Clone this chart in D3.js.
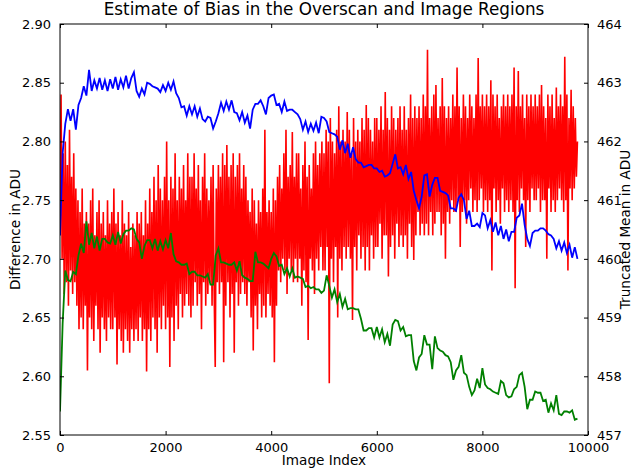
<!DOCTYPE html>
<html>
<head>
<meta charset="utf-8">
<script src="https://cdn.jsdelivr.net/npm/d3@7"></script>
<style>
  html, body { margin: 0; padding: 0; background: #ffffff; }
  svg { display: block; font-family: "DejaVu Sans", sans-serif; }
</style>
</head>
<body>
<svg id="chart" width="632" height="473"></svg>
<script>
// ---------------- data ----------------
const chartTitle = "Estimate of Bias in the Overscan and Image Regions";
const xLabel = "Image Index";
const leftLabel = "Difference in ADU";
const rightLabel = "Truncated Mean in ADU";

const xTicks = [0, 2000, 4000, 6000, 8000, 10000];
const leftTicks = [2.55, 2.60, 2.65, 2.70, 2.75, 2.80, 2.85, 2.90];
const rightTicks = [457, 458, 459, 460, 461, 462, 463, 464];

// sample spacing (image index) of each series
const diffStep = 20;
const meanStep = 50;

// Difference (left axis), red — one row per 500 images
const diffValues = [
  2.72, 2.84, 2.70, 2.79, 2.67, 2.80, 2.68, 2.78, 2.66, 2.81, 2.69, 2.77, 2.67, 2.79, 2.68, 2.76, 2.66, 2.75, 2.64, 2.74, 2.65, 2.76, 2.64, 2.73, 2.66,
  2.74, 2.605, 2.73, 2.65, 2.75, 2.64, 2.76, 2.63, 2.72, 2.66, 2.74, 2.64, 2.75, 2.62, 2.73, 2.65, 2.74, 2.64, 2.72, 2.63, 2.75, 2.65, 2.73, 2.64, 2.74,
  2.64, 2.76, 2.65, 2.73, 2.61, 2.74, 2.64, 2.72, 2.63, 2.75, 2.62, 2.73, 2.64, 2.72, 2.63, 2.74, 2.62, 2.71, 2.64, 2.73, 2.63, 2.72, 2.64, 2.74, 2.63,
  2.73, 2.65, 2.74, 2.63, 2.72, 2.64, 2.75, 2.604, 2.73, 2.64, 2.76, 2.63, 2.74, 2.65, 2.77, 2.64, 2.75, 2.62, 2.78, 2.65, 2.76, 2.64, 2.75, 2.66, 2.77,
  2.64, 2.80, 2.65, 2.75, 2.608, 2.77, 2.65, 2.76, 2.63, 2.79, 2.66, 2.75, 2.64, 2.77, 2.67, 2.76, 2.65, 2.78, 2.66, 2.75, 2.67, 2.79, 2.66, 2.77, 2.65,
  2.77, 2.66, 2.79, 2.68, 2.76, 2.66, 2.78, 2.67, 2.75, 2.64, 2.77, 2.68, 2.79, 2.66, 2.76, 2.67, 2.75, 2.68, 2.77, 2.66, 2.78, 2.67, 2.608, 2.76, 2.68,
  2.78, 2.67, 2.77, 2.68, 2.79, 2.612, 2.78, 2.66, 2.797, 2.68, 2.77, 2.65, 2.78, 2.67, 2.79, 2.62, 2.77, 2.68, 2.78, 2.66, 2.79, 2.67, 2.76, 2.68, 2.78,
  2.67, 2.77, 2.66, 2.75, 2.68, 2.74, 2.65, 2.76, 2.622, 2.75, 2.66, 2.73, 2.64, 2.75, 2.67, 2.74, 2.65, 2.76, 2.66, 2.81, 2.65, 2.74, 2.67, 2.75, 2.66,
  2.74, 2.65, 2.76, 2.612, 2.75, 2.66, 2.77, 2.69, 2.78, 2.68, 2.76, 2.70, 2.79, 2.69, 2.81, 2.67, 2.77, 2.70, 2.78, 2.69, 2.808, 2.68, 2.77, 2.70, 2.79,
  2.68, 2.79, 2.70, 2.76, 2.66, 2.78, 2.69, 2.80, 2.68, 2.77, 2.631, 2.78, 2.70, 2.76, 2.69, 2.79, 2.67, 2.80, 2.70, 2.78, 2.69, 2.79, 2.71, 2.80, 2.69,
  2.79, 2.69, 2.81, 2.71, 2.80, 2.594, 2.82, 2.70, 2.80, 2.68, 2.79, 2.71, 2.81, 2.65, 2.83, 2.70, 2.80, 2.69, 2.81, 2.71, 2.80, 2.70, 2.825, 2.71, 2.81,
  2.70, 2.79, 2.648, 2.82, 2.71, 2.80, 2.69, 2.81, 2.72, 2.80, 2.70, 2.82, 2.71, 2.81, 2.69, 2.831, 2.71, 2.82, 2.69, 2.81, 2.72, 2.80, 2.70, 2.82, 2.71,
  2.82, 2.71, 2.81, 2.73, 2.83, 2.70, 2.81, 2.72, 2.842, 2.72, 2.82, 2.685, 2.81, 2.71, 2.83, 2.72, 2.82, 2.70, 2.81, 2.73, 2.82, 2.71, 2.83, 2.72, 2.81,
  2.71, 2.83, 2.72, 2.81, 2.70, 2.82, 2.73, 2.84, 2.71, 2.82, 2.699, 2.83, 2.72, 2.82, 2.74, 2.83, 2.72, 2.82, 2.73, 2.84, 2.72, 2.83, 2.73, 2.878, 2.72,
  2.82, 2.74, 2.83, 2.72, 2.84, 2.73, 2.848, 2.74, 2.82, 2.74, 2.83, 2.72, 2.854, 2.73, 2.83, 2.70, 2.82, 2.74, 2.83, 2.73, 2.82, 2.75, 2.84, 2.74, 2.83,
  2.74, 2.863, 2.75, 2.83, 2.71, 2.82, 2.74, 2.84, 2.75, 2.83, 2.73, 2.82, 2.75, 2.84, 2.76, 2.83, 2.74, 2.82, 2.75, 2.84, 2.74, 2.871, 2.75, 2.83, 2.76,
  2.84, 2.74, 2.83, 2.75, 2.84, 2.74, 2.83, 2.75, 2.852, 2.69, 2.84, 2.76, 2.83, 2.74, 2.84, 2.75, 2.82, 2.73, 2.83, 2.76, 2.84, 2.74, 2.83, 2.75, 2.84,
  2.74, 2.83, 2.75, 2.84, 2.74, 2.863, 2.675, 2.83, 2.75, 2.86, 2.74, 2.83, 2.76, 2.84, 2.75, 2.82, 2.71, 2.84, 2.75, 2.83, 2.74, 2.84, 2.76, 2.83, 2.75,
  2.84, 2.75, 2.83, 2.76, 2.84, 2.74, 2.848, 2.75, 2.83, 2.75, 2.82, 2.70, 2.84, 2.76, 2.83, 2.74, 2.84, 2.75, 2.82, 2.74, 2.846, 2.75, 2.83, 2.76, 2.84,
  2.75, 2.83, 2.74, 2.872, 2.75, 2.84, 2.69, 2.82, 2.76, 2.844, 2.75, 2.83, 2.76, 2.82, 2.77, 2.80
];

// Truncated mean, overscan region (right axis), blue
const overscanMean = [
  460.4, 461.8, 462.3, 462.55, 462.35, 462.55, 462.2, 462.62, 462.74, 462.94,
  462.78, 463.22, 462.86, 463.04, 462.9, 463.08, 462.88, 463.04, 462.86, 463.06,
  462.9, 463.1, 462.88, 463.06, 462.92, 463.12, 462.9, 463.08, 463.18, 462.86,
  462.76, 462.9, 462.8, 463.0, 462.98, 462.94, 462.92, 462.9, 462.84, 462.96,
  462.86, 463.0, 462.88, 463.02, 462.82, 462.74, 462.58, 462.6, 462.44, 462.6,
  462.46, 462.6, 462.42, 462.56, 462.38, 462.34, 462.42, 462.4, 462.22, 462.34,
  462.48, 462.66, 462.52, 462.68, 462.54, 462.7, 462.5, 462.48, 462.36, 462.5,
  462.32, 462.44, 462.22, 462.54, 462.64, 462.64, 462.7, 462.6, 462.46, 462.74,
  462.78, 462.8, 462.62, 462.64, 462.5, 462.68, 462.52, 462.54, 462.54, 462.5,
  462.46, 462.38, 462.2, 462.34, 462.16, 462.3, 462.18, 462.32, 462.14, 462.42,
  462.4, 462.34, 462.16, 462.14, 462.12, 462.08, 461.86, 462.02, 461.8, 461.96,
  461.72, 461.9, 461.7, 461.64, 461.64, 461.56, 461.58, 461.6, 461.6, 461.54,
  461.54, 461.48, 461.5, 461.4, 461.42, 461.46, 461.62, 461.78, 461.54, 461.56,
  461.44, 461.6, 461.36, 461.48, 461.16, 461.0, 460.86, 461.06, 461.42, 461.44,
  461.06, 461.26, 461.38, 461.38, 461.16, 461.14, 461.12, 461.08, 460.86, 460.86,
  460.82, 461.04, 461.1, 461.0, 460.68, 460.82, 460.56, 460.56, 460.6, 460.54,
  460.78, 460.74, 460.52, 460.66, 460.46, 460.62, 460.4, 460.56, 460.34, 460.5,
  460.3, 460.46, 460.46, 460.7, 460.74, 460.94, 460.58, 460.34, 460.22, 460.44,
  460.48, 460.48, 460.52, 460.52, 460.48, 460.42, 460.4, 460.34, 460.18, 460.3,
  460.14, 460.28, 460.1, 460.24, 460.02, 460.2, 460.0
];

// Truncated mean, image region (right axis), green
const imageMean = [
  457.4, 458.9, 459.8, 459.64, 459.62, 459.78, 459.74, 460.06, 460.26, 460.1,
  460.64, 460.24, 460.44, 460.18, 460.38, 460.14, 460.34, 460.34, 460.28, 460.26,
  460.4, 460.24, 460.46, 460.26, 460.42, 460.48, 460.48, 460.52, 460.5, 460.34,
  460.28, 460.0, 460.22, 460.32, 460.32, 460.18, 460.34, 460.14, 460.3, 460.16,
  460.32, 460.18, 460.44, 460.08, 459.96, 459.94, 459.9, 459.9, 459.92, 459.74,
  459.78, 459.78, 459.72, 459.72, 459.7, 459.68, 459.74, 459.56, 459.56, 460.06,
  460.18, 459.94, 459.94, 459.92, 459.9, 459.9, 459.94, 459.8, 459.96, 459.72,
  459.68, 459.66, 459.62, 459.62, 460.12, 459.94, 459.94, 459.92, 459.88, 459.84,
  460.0, 460.1, 460.04, 459.88, 459.9, 459.74, 459.84, 459.7, 459.84, 459.68,
  459.7, 459.68, 459.66, 459.52, 459.54, 459.5, 459.52, 459.48, 459.48, 459.42,
  459.46, 459.72, 459.54, 459.34, 459.48, 459.26, 459.4, 459.18, 459.32, 459.14,
  459.16, 459.16, 459.14, 459.14, 458.98, 458.78, 458.78, 458.82, 458.82, 458.66,
  458.84, 458.66, 458.8, 458.58, 458.72, 458.52, 458.88, 458.96, 458.94, 458.78,
  458.84, 458.68, 458.7, 458.7, 458.26, 458.1, 458.32, 458.38, 458.7, 458.54,
  458.54, 458.12, 458.68, 458.48, 458.44, 458.42, 458.36, 458.34, 458.24, 457.94,
  458.1, 458.16, 458.36, 458.06, 458.02, 457.82, 457.68, 457.76, 457.96, 457.8,
  458.14, 457.86, 457.8, 457.78, 457.74, 457.72, 457.7, 457.92, 457.88, 457.68,
  457.64, 457.66, 457.78, 457.82, 458.02, 458.06, 457.82, 457.44, 457.6, 457.6,
  457.74, 457.72, 457.72, 457.58, 457.6, 457.38, 457.54, 457.42, 457.68, 457.36,
  457.34, 457.4, 457.4, 457.38, 457.42, 457.26, 457.28
];

// ---------------- layout ----------------
const W = 632, H = 473;
const margin = { left: 60, right: 44, top: 24, bottom: 38 };
const plotW = W - margin.left - margin.right;
const plotH = H - margin.top - margin.bottom;

const svg = d3.select("#chart");
const g = svg.append("g").attr("transform", `translate(${margin.left},${margin.top})`);

const x = d3.scaleLinear().domain([0, 10000]).range([0, plotW]);
const yL = d3.scaleLinear().domain([2.55, 2.90]).range([plotH, 0]);
const yR = d3.scaleLinear().domain([457, 464]).range([plotH, 0]);

svg.append("defs").append("clipPath").attr("id", "clip")
  .append("rect").attr("width", plotW).attr("height", plotH);

const plot = g.append("g").attr("clip-path", "url(#clip)");

const diffData = diffValues.map((v, i) => ({ x: i * diffStep, y: v }));
const overData = overscanMean.map((v, i) => ({ x: i * meanStep, y: v }));
const imgData = imageMean.map((v, i) => ({ x: i * meanStep, y: v }));

const lineL = d3.line().x(d => x(d.x)).y(d => yL(d.y));
const lineR = d3.line().x(d => x(d.x)).y(d => yR(d.y));

plot.append("path").datum(diffData).attr("d", lineL)
  .attr("fill", "none").attr("stroke", "#ff0000").attr("stroke-width", 1.6)
  .attr("stroke-linejoin", "miter").attr("stroke-miterlimit", 2);
plot.append("path").datum(overData).attr("d", lineR)
  .attr("fill", "none").attr("stroke", "#0000ff").attr("stroke-width", 1.8);
plot.append("path").datum(imgData).attr("d", lineR)
  .attr("fill", "none").attr("stroke", "#008000").attr("stroke-width", 1.8);

// ---------------- axes ----------------
const tickLen = 4;
const fontSize = 13;

g.append("rect").attr("x", 0).attr("y", 0).attr("width", plotW).attr("height", plotH)
  .attr("fill", "none").attr("stroke", "#000").attr("stroke-width", 1);

const axB = d3.axisBottom(x).tickValues(xTicks).tickSize(-tickLen).tickPadding(8).tickFormat(d3.format("d"));
const gb = g.append("g").attr("transform", `translate(0,${plotH})`).call(axB);
const axT = d3.axisTop(x).tickValues(xTicks).tickSize(-tickLen).tickFormat("");
const gt = g.append("g").call(axT);
const axL = d3.axisLeft(yL).tickValues(leftTicks).tickSize(-tickLen).tickPadding(9).tickFormat(d3.format(".2f"));
const gl = g.append("g").call(axL);
const axR = d3.axisRight(yR).tickValues(rightTicks).tickSize(-tickLen).tickPadding(9).tickFormat(d3.format("d"));
const gr = g.append("g").attr("transform", `translate(${plotW},0)`).call(axR);

[gb, gt, gl, gr].forEach(a => {
  a.select(".domain").remove();
  a.selectAll(".tick line").attr("stroke", "#000");
  a.selectAll(".tick text").attr("fill", "#000")
    .style("font-family", "'DejaVu Sans', sans-serif").style("font-size", fontSize + "px");
});

svg.append("text").attr("x", margin.left + plotW / 2).attr("y", 15)
  .attr("text-anchor", "middle").style("font-size", "16.8px").attr("fill", "#000").text(chartTitle);
svg.append("text").attr("x", margin.left + plotW / 2).attr("y", 465)
  .attr("text-anchor", "middle").style("font-size", "13.6px").attr("fill", "#000").text(xLabel);
svg.append("text").attr("transform", `translate(20,${margin.top + plotH / 2}) rotate(-90)`)
  .attr("text-anchor", "middle").style("font-size", "13.6px").attr("fill", "#000").text(leftLabel);
svg.append("text").attr("transform", `translate(630,${margin.top + plotH / 2}) rotate(-90)`)
  .attr("text-anchor", "middle").style("font-size", "13.6px").attr("fill", "#000").text(rightLabel);
</script>
</body>
</html>
